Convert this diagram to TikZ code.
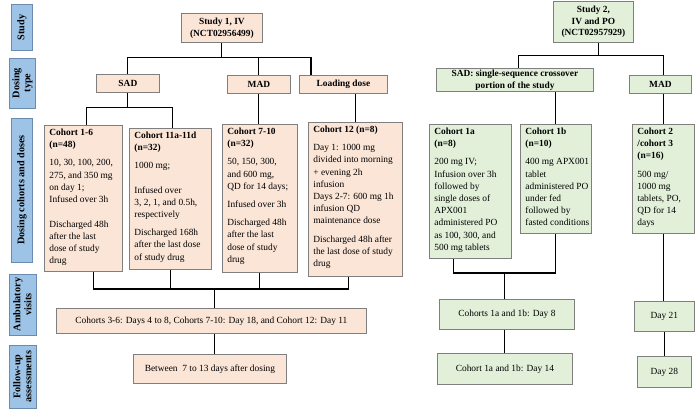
\documentclass[tikz,border=0pt]{standalone}
\usepackage{fontspec}
\setmainfont{Liberation Serif}
\usetikzlibrary{calc}
\definecolor{pinkf}{HTML}{FBE5D6}
\definecolor{greenf}{HTML}{E2F0D9}
\definecolor{bluef}{HTML}{9DC3E6}
\definecolor{boxb}{HTML}{7F7F7F}
\definecolor{blueb}{HTML}{6A8BAE}
\tikzset{
  base/.style={draw=boxb, line width=0.8pt, inner sep=0pt, font=\fontsize{9.4}{12.2}\selectfont},
  pinkbox/.style={base, fill=pinkf},
  greenbox/.style={base, fill=greenf},
  hdr/.style={font=\fontsize{9.4}{11.8}\selectfont\bfseries, align=center},
  plain/.style={align=center},
  lblbox/.style={draw=blueb, line width=0.8pt, fill=bluef, font=\fontsize{10.2}{11}\selectfont\bfseries, rotate=90, align=center, inner sep=0pt},
  conn/.style={draw=black, line width=1.1pt},
}
\newcommand\cbox[7]{%
  \node[#2, anchor=north west, inner xsep=5pt, inner ysep=0pt, minimum width=#5pt, minimum height=#6pt] (#1) at (#3,#4)
  {\begin{minipage}[c][\dimexpr #6pt-3pt\relax][t]{\dimexpr #5pt-10pt\relax}\noindent\begin{tabular}[t]{@{}l@{}}#7\end{tabular}\end{minipage}};}
\newcommand\bbox[7]{%
  \node[#2, anchor=north west, minimum width=#5pt, minimum height=#6pt] (#1) at (#3,#4) {#7};}
\newcommand\lbl[6]{%
  \node[lblbox, minimum width=#4pt, minimum height=#5pt] (#1) at (#2,#3) {#6};}
\begin{document}
\begin{tikzpicture}[x=1pt,y=-1pt]
\fill[white] (0,0) rectangle (696,410);
\useasboundingbox (0,0) rectangle (696,410);

% side labels
\lbl{lstudy}{22}{27.5}{46}{21}{Study}
\lbl{ltype}{22.5}{83}{50}{26}{Dosing\\type}
\lbl{lcoh}{22}{190}{144}{21}{Dosing cohorts and doses}
\lbl{lamb}{22.5}{304.5}{61}{27}{Ambulatory\\visits}
\lbl{lfu}{22.5}{376.5}{63}{27}{Follow-up\\assessments}

% Study 1
\bbox{s1}{pinkbox,hdr}{181}{13}{81}{29}{Study 1, IV\\(NCT02956499)}
\bbox{sad}{pinkbox,hdr}{96}{74}{63}{18}{SAD}
\bbox{mad}{pinkbox,hdr}{227}{75}{63}{18}{MAD}
\bbox{load}{pinkbox,hdr}{299}{75}{88}{18}{Loading dose}

\cbox{c16}{pinkbox}{44}{125}{78}{146}{\textbf{Cohort 1-6}\\\textbf{(n=48)}\\[6pt]10, 30, 100, 200,\\275, and 350 mg\\on day 1;\\Infused over 3h\\[12.5pt]Discharged 48h\\after the last\\dose of study\\drug}
\cbox{c11}{pinkbox}{129}{128}{82}{141}{\textbf{Cohort 11a-11d}\\\textbf{(n=32)}\\[6pt]1000 mg;\\[12pt]Infused over\\3, 2, 1, and 0.5h,\\respectively\\[6pt]Discharged 168h\\after the last dose\\of study drug}
\cbox{c710}{pinkbox}{222}{124}{75}{148}{\textbf{Cohort 7-10}\\\textbf{(n=32)}\\[6pt]50, 150, 300,\\and 600 mg,\\QD for 14 days;\\[6pt]Infused over 3h\\[6pt]Discharged 48h\\after the last\\dose of study\\drug}
\cbox{c12}{pinkbox}{308}{122}{94}{154}{\textbf{Cohort 12 (n=8)}\\[6pt]Day 1: 1000 mg\\divided into morning\\+ evening 2h\\infusion\\Days 2-7: 600 mg 1h\\infusion QD\\maintenance dose\\[6pt]Discharged 48h after\\the last dose of study\\drug}

\bbox{amb}{pinkbox,plain}{56}{308}{310}{25}{Cohorts 3-6: Days 4 to 8, Cohorts 7-10: Day 18, and Cohort 12: Day 11}
\bbox{fu}{pinkbox,plain}{133}{354}{153}{29}{Between~~7 to 13 days after dosing}

% Study 2
\bbox{s2}{greenbox,hdr}{553}{1}{80}{41}{Study 2,\\IV and PO\\(NCT02957929)}
\bbox{sad2}{greenbox,hdr}{436}{68}{157}{23}{SAD: single-sequence crossover\\portion of the study}
\bbox{mad2}{greenbox,hdr}{629}{75}{62}{18}{MAD}

\cbox{c1a}{greenbox}{429}{124}{82}{134}{\textbf{Cohort 1a}\\\textbf{(n=8)}\\[6pt]200 mg IV;\\Infusion over 3h\\followed by\\single doses of\\APX001\\administered PO\\as 100, 300, and\\500 mg tablets}
\cbox{c1b}{greenbox}{520}{124}{71}{109}{\textbf{Cohort 1b}\\\textbf{(n=10)}\\[6pt]400 mg APX001\\tablet\\administered PO\\under fed\\followed by\\fasted conditions}
\cbox{c23}{greenbox}{632}{124}{62}{109}{\textbf{Cohort 2}\\\textbf{/cohort 3}\\\textbf{(n=16)}\\[6pt]500 mg/\\1000 mg\\tablets, PO,\\QD for 14\\days}

\bbox{d8}{greenbox,plain}{439}{299}{135}{30}{Cohorts 1a and 1b: Day 8}
\bbox{d14}{greenbox,plain}{437}{353}{135}{31}{Cohort 1a and 1b: Day 14}
\bbox{d21}{greenbox,plain}{634}{301}{60}{30}{Day 21}
\bbox{d28}{greenbox,plain}{637}{356}{54}{31}{Day 28}

% connectors, study 1
\coordinate (j1) at ($(s1.south)+(0,15)$);
\draw[conn] (s1.south) -- (j1);
\draw[conn] (sad.north) |- (j1) -| ($(load.north west)+(12,0)$);
\draw[conn] (mad.north) -- (mad.north |- j1);
\coordinate (j2) at ($(sad.south)+(0,15)$);
\draw[conn] (sad.south) -- (j2);
\draw[conn] ($(c16.north)+(3,0)$) |- (j2) -| ($(c11.north)+(2,0)$);
\draw[conn] (mad.south) -- (mad.south |- c710.north);
\draw[conn] (c12.north) -- (c12.north |- load.south);
\coordinate (j3) at ($(amb.north)+(3,-19)$);
\draw[conn] ($(c16.south)+(10,0)$) |- (j3) -| ($(c12.south)+(-7,0)$);
\draw[conn] (c11.south) -- (c11.south |- j3);
\draw[conn] (c710.south) -- (c710.south |- j3);
\draw[conn] (j3) -- (j3 |- amb.north);
\draw[conn] (j3 |- amb.south) -- (j3 |- fu.north);

% connectors, study 2
\coordinate (k1) at ($(s2.south)+(5,13)$);
\draw[conn] (k1 |- s2.south) -- (k1);
\draw[conn] ($(sad2.north)+(4,0)$) |- (k1) -| ($(mad2.north)+(3,0)$);
\draw[conn] ($(c1a.north)+(-3,0)$) -- ($(c1a.north)+(-3,0)$ |- sad2.south);
\draw[conn] (c1b.north) -- (c1b.north |- sad2.south);
\draw[conn] (c23.north) -- (c23.north |- mad2.south);
\coordinate (k2) at ($(d8.north)+(-2.5,-26)$);
\draw[conn] ($(c1a.south)+(-17,0)$) |- (k2) -| (c1b.south);
\draw[conn] (k2) -- (k2 |- d8.north);
\draw[conn] (k2 |- d8.south) -- (k2 |- d14.north);
\draw[conn] (c23.south) -- (c23.south |- d21.north);
\draw[conn] (d21.south) -- (d21.south |- d28.north);
\end{tikzpicture}
\end{document}
